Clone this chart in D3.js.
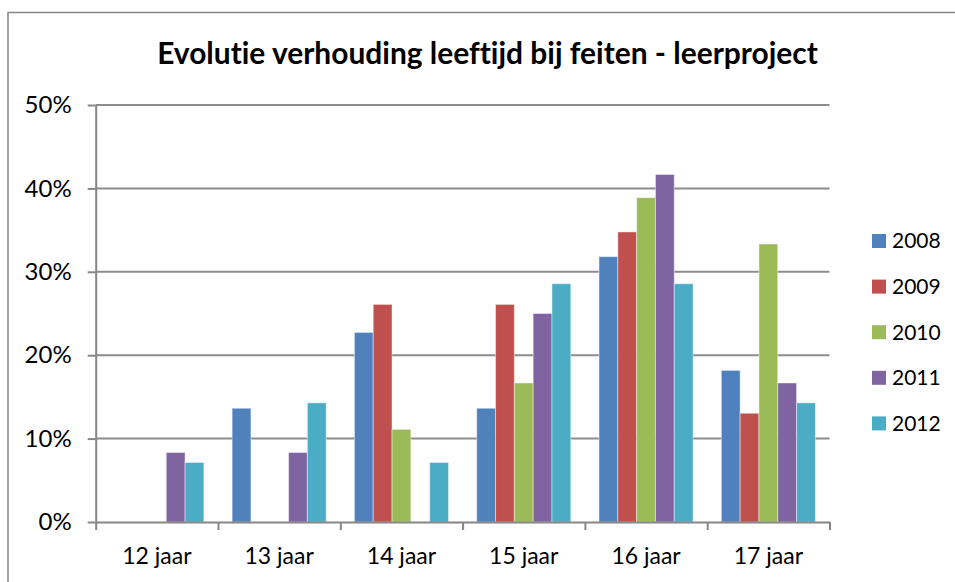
<!DOCTYPE html>
<html>
<head>
<meta charset="utf-8">
<script src="https://cdn.jsdelivr.net/npm/d3@7"></script>
<style>
  body { margin: 0; background: #fff; }
  svg { display: block; font-variant-ligatures: none; }
  .axis path, .axis line { stroke: #868686; stroke-width: 2; }
  .axis text { font-family: Lato, "Noto Sans", sans-serif; fill: #000; }
</style>
</head>
<body>
<div id="chart"></div>
<script>
// chart data
const categories = ["12 jaar", "13 jaar", "14 jaar", "15 jaar", "16 jaar", "17 jaar"];
const years = ["2008", "2009", "2010", "2011", "2012"];
const colors = ["#4F81BD", "#C0504D", "#9BBB59", "#8064A2", "#4BACC6"];
const v2008 = [0, 0.1364, 0.2273, 0.1364, 0.3182, 0.1818];
const v2009 = [0, 0, 0.2609, 0.2609, 0.3478, 0.1304];
const v2010 = [0, 0, 0.1111, 0.1667, 0.3889, 0.3333];
const v2011 = [0.0833, 0.0833, 0, 0.25, 0.4167, 0.1667];
const v2012 = [0.0714, 0.1429, 0.0714, 0.2857, 0.2857, 0.1429];
const yTicks = [0, 0.1, 0.2, 0.3, 0.4, 0.5];
const title = "Evolutie verhouding leeftijd bij feiten - leerproject";

const series = [v2008, v2009, v2010, v2011, v2012];

const W = 955, H = 582;
const plot = {left: 95.7, right: 829.5, top: 105, bottom: 522};

const svg = d3.select("#chart").append("svg")
    .attr("width", W)
    .attr("height", H);

// chart frame (runs off the right and bottom edge)
svg.append("rect")
    .attr("x", 8)
    .attr("y", 12.5)
    .attr("width", 1200)
    .attr("height", 1200)
    .attr("fill", "none")
    .attr("stroke", "#868686")
    .attr("stroke-width", 1.5);

// title
let t = svg.append("text")
    .attr("x", (157 + 818) / 2)
    .attr("y", 64)
    .attr("text-anchor", "middle")
    .attr("font-family", "Lato, 'Noto Sans', sans-serif")
    .attr("font-weight", "bold")
    .attr("font-size", 28)
    .text(title);
// fit to the width of the original title
let tw = t.node().getComputedTextLength();
t.attr("font-size", 28 * 661 / tw);

// scales
let x0 = d3.scaleBand()
    .domain(categories)
    .range([plot.left, plot.right])
    .padding(0);

let x1 = d3.scaleBand()
    .domain(years)
    .range([0, x0.bandwidth()])
    .paddingInner(0)
    .paddingOuter(0.75);

let y = d3.scaleLinear()
    .domain([0, 0.5])
    .range([plot.bottom, plot.top]);

let xEdge = d3.scaleLinear()
    .domain([0, categories.length])
    .range([plot.left, plot.right]);

// gridlines
svg.append("g")
    .selectAll("line")
    .data(yTicks.slice(1))
    .enter()
    .append("line")
    .attr("x1", plot.left)
    .attr("x2", plot.right)
    .attr("y1", d => y(d))
    .attr("y2", d => y(d))
    .attr("stroke", "#8c8c8c")
    .attr("stroke-width", 2);

// bars
let groups = svg.append("g")
    .selectAll("g")
    .data(series)
    .enter()
    .append("g")
    .attr("fill", (d, i) => colors[i]);

groups.selectAll("rect")
    .data((d, i) => d.map((v, j) => ({v: v, cat: categories[j], year: years[i]})))
    .enter()
    .filter(d => d.v > 0)
    .append("rect")
    .attr("x", d => x0(d.cat) + x1(d.year))
    .attr("y", d => y(d.v))
    .attr("width", x1.bandwidth())
    .attr("height", d => y(0) - y(d.v))
    .attr("stroke", "rgba(255,255,255,0.45)")
    .attr("stroke-width", 1);

// y axis
let yAxis = d3.axisLeft(y)
    .tickValues(yTicks)
    .tickFormat(d3.format(".0%"))
    .tickSize(8)
    .tickSizeOuter(0)
    .tickPadding(16);

svg.append("g")
    .attr("class", "axis")
    .attr("transform", `translate(${plot.left},0)`)
    .call(yAxis)
    .selectAll("text")
    .attr("font-size", 24);

// x axis: boundary ticks
let xAxis = d3.axisBottom(xEdge)
    .tickValues(d3.range(categories.length + 1))
    .tickFormat("")
    .tickSize(8)
    .tickSizeOuter(0);

svg.append("g")
    .attr("class", "axis")
    .attr("transform", `translate(0,${plot.bottom})`)
    .call(xAxis);

// x axis: category labels
let xLabels = d3.axisBottom(x0)
    .tickSize(0)
    .tickPadding(0);

let xl = svg.append("g")
    .attr("class", "axis")
    .attr("transform", `translate(0,${plot.bottom})`)
    .call(xLabels);
xl.select(".domain").remove();
xl.selectAll("text")
    .attr("font-size", 23)
    .attr("dy", 0)
    .attr("y", 42);

// legend
let legend = svg.append("g")
    .selectAll("g")
    .data(years)
    .enter()
    .append("g")
    .attr("transform", (d, i) => `translate(872,${241 + i * 45.6})`);

legend.append("rect")
    .attr("x", 0)
    .attr("y", -7)
    .attr("width", 14)
    .attr("height", 14)
    .attr("fill", (d, i) => colors[i]);

legend.append("text")
    .attr("x", 20)
    .attr("y", 0)
    .attr("dy", "0.35em")
    .attr("font-family", "Lato, 'Noto Sans', sans-serif")
    .attr("font-size", 21)
    .text(d => d);
</script>
</body>
</html>
